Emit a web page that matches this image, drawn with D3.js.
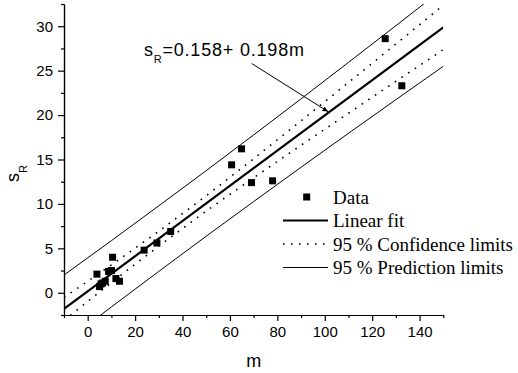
<!DOCTYPE html>
<html>
<head>
<meta charset="utf-8">
<script src="https://cdn.jsdelivr.net/npm/d3@7"></script>
<style>
  body { margin: 0; background: #fff; }
  svg { display: block; }
  .axis path, .axis line { stroke: #000; stroke-width: 1.2; }
  .axis text { font-family: 'Liberation Sans', Arial, sans-serif; font-size: 15px; fill: #000; }
</style>
</head>
<body>
<div id="chart"></div>
<script>
// measured points (m, s_R)
const mValues = [3.9, 5.0, 5.6, 6.3, 7.4, 8.8, 10.0, 10.5, 11.9, 13.4, 23.8, 29.2, 35.0, 60.7, 64.9, 69.1, 78.0, 125.5, 132.5];
const sValues = [2.1, 0.7, 1.0, 1.1, 1.3, 2.4, 2.5, 4.0, 1.6, 1.3, 4.8, 5.6, 6.9, 14.4, 16.2, 12.4, 12.6, 28.6, 23.3];

// fit coefficients, as printed on the chart
const fitIntercept = 0.158;
const fitSlope = 0.198;

// half widths of the bands at these m
const bandM = [-10, 10, 30, 50, 70, 90, 110, 130, 150];
const confHalf = [1.3, 1.0, 0.85, 0.87, 1.08, 1.38, 1.73, 2.1, 2.5];
const predHalf = [3.82, 3.73, 3.69, 3.69, 3.75, 3.85, 3.99, 4.16, 4.37];

const xTicks = [0, 20, 40, 60, 80, 100, 120, 140];
const xMinor = [-10, 10, 30, 50, 70, 90, 110, 130, 150];
const yTicks = [0, 5, 10, 15, 20, 25, 30];
const yMinor = [-2.5, 2.5, 7.5, 12.5, 17.5, 22.5, 27.5, 32.5];

const legendItems = ['Data', 'Linear fit', '95 % Confidence limits', '95 % Prediction limits'];

const W = 518;
const H = 373;
const plot = { l: 64, r: 443.3, t: 4, b: 315 };

const x = d3.scaleLinear().domain([-10, 150]).range([plot.l, plot.r]);
const y = d3.scaleLinear().domain([-2.5, 32.5]).range([plot.b, plot.t]);
const fit = m => fitIntercept + fitSlope * m;

const svg = d3.select('#chart').append('svg')
  .attr('width', W)
  .attr('height', H);

svg.append('defs').append('clipPath')
  .attr('id', 'clip')
  .append('rect')
  .attr('x', plot.l)
  .attr('y', plot.t)
  .attr('width', plot.r - plot.l)
  .attr('height', plot.b - plot.t);

// axes
svg.append('g')
  .attr('class', 'axis')
  .attr('transform', `translate(0, ${plot.b})`)
  .call(d3.axisBottom(x).tickValues(xMinor).tickSize(3).tickSizeOuter(0).tickFormat(''));

svg.append('g')
  .attr('class', 'axis')
  .attr('transform', `translate(0, ${plot.b})`)
  .call(d3.axisBottom(x).tickValues(xTicks).tickSize(6).tickSizeOuter(0).tickPadding(5));

svg.append('g')
  .attr('class', 'axis')
  .attr('transform', `translate(${plot.l}, 0)`)
  .call(d3.axisLeft(y).tickValues(yMinor).tickSize(3).tickSizeOuter(0).tickFormat(''));

svg.append('g')
  .attr('class', 'axis')
  .attr('transform', `translate(${plot.l}, 0)`)
  .call(d3.axisLeft(y).tickValues(yTicks).tickSize(6).tickSizeOuter(0).tickPadding(5));

// axis titles
svg.append('text')
  .attr('x', x(70))
  .attr('y', 367)
  .attr('text-anchor', 'middle')
  .style('font-family', "'Liberation Sans', Arial, sans-serif")
  .style('font-size', '18px')
  .text('m');

const yTitle = svg.append('text')
  .attr('transform', `translate(19, 182) rotate(-90)`)
  .style('font-family', "'Liberation Sans', Arial, sans-serif")
  .style('font-size', '18px');
yTitle.append('tspan').text('s');
yTitle.append('tspan').attr('dy', 8).style('font-size', '11px').text('R');

// lines
const g = svg.append('g').attr('clip-path', 'url(#clip)');

function band(half, sign) {
  return d3.line()
    .x(d => x(d))
    .y((d, i) => y(fit(d) + sign * half[i]))
    .curve(d3.curveMonotoneX)(bandM);
}

[[predHalf, 1], [predHalf, -1]].forEach(([half, sign]) => {
  g.append('path')
    .attr('d', band(half, sign))
    .attr('fill', 'none')
    .attr('stroke', '#000')
    .attr('stroke-width', 1);
});

[[confHalf, 1], [confHalf, -1]].forEach(([half, sign]) => {
  g.append('path')
    .attr('d', band(half, sign))
    .attr('fill', 'none')
    .attr('stroke', '#000')
    .attr('stroke-width', 1.6)
    .attr('stroke-dasharray', '1.6,6.4');
});

g.append('path')
  .attr('d', d3.line().x(d => x(d)).y(d => y(fit(d)))([-10, 150]))
  .attr('fill', 'none')
  .attr('stroke', '#000')
  .attr('stroke-width', 2.2);

// data squares
const sq = 7;
g.selectAll('rect.pt')
  .data(mValues)
  .enter().append('rect')
  .attr('class', 'pt')
  .attr('x', d => x(d) - sq / 2)
  .attr('y', (d, i) => y(sValues[i]) - sq / 2)
  .attr('width', sq)
  .attr('height', sq)
  .attr('fill', '#000');

// annotation
const annot = svg.append('text')
  .attr('x', x(23.7))
  .attr('y', y(26.7))
  .style('font-family', "'Liberation Sans', Arial, sans-serif")
  .style('font-size', '18px')
  .style('letter-spacing', '0.8px');
annot.append('tspan').text('s');
annot.append('tspan').attr('dy', 7.5).style('font-size', '11px').text('R');
annot.append('tspan').attr('dy', -7.5).text('=0.158+ 0.198m');

svg.select('defs').append('marker')
  .attr('id', 'arrow')
  .attr('viewBox', '0 0 10 10')
  .attr('refX', 10)
  .attr('refY', 5)
  .attr('markerWidth', 6)
  .attr('markerHeight', 6)
  .attr('orient', 'auto')
  .append('path')
  .attr('d', 'M0,1 L10,5 L0,9 Z')
  .attr('fill', '#000');

const arrowEndM = 101.5;
svg.append('line')
  .attr('x1', x(69.2))
  .attr('y1', y(25.8))
  .attr('x2', x(arrowEndM))
  .attr('y2', y(fit(arrowEndM)) - 1)
  .attr('stroke', '#000')
  .attr('stroke-width', 1)
  .attr('marker-end', 'url(#arrow)');

// legend
const legend = svg.append('g').attr('transform', 'translate(283, 197)');
const rowH = 23.5;

legendItems.forEach((label, i) => {
  const row = legend.append('g').attr('transform', `translate(0, ${i * rowH})`);
  if (i === 0) {
    row.append('rect')
      .attr('x', 23.7 - sq / 2)
      .attr('y', -sq / 2)
      .attr('width', sq)
      .attr('height', sq)
      .attr('fill', '#000');
  } else {
    row.append('line')
      .attr('x1', 0)
      .attr('x2', 45)
      .attr('stroke', '#000')
      .attr('stroke-width', i === 1 ? 2.2 : (i === 2 ? 1.6 : 1))
      .attr('stroke-dasharray', i === 2 ? '1.6,6.4' : null);
  }
  row.append('text')
    .attr('x', 50)
    .attr('y', 6.5)
    .style('font-family', "'Liberation Serif', 'Times New Roman', serif")
    .style('font-size', '19px')
    .text(label);
});
</script>
</body>
</html>
